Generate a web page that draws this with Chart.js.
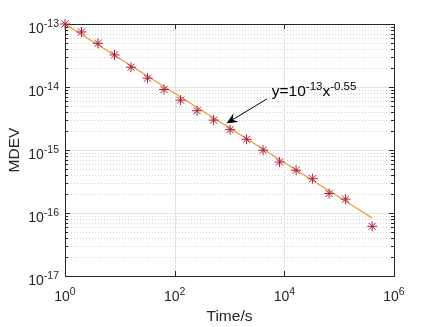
<!DOCTYPE html>
<html>
<head>
<meta charset="utf-8">
<script src="https://cdn.jsdelivr.net/npm/chart.js@4/dist/chart.umd.min.js"></script>
<style>
  html, body { margin: 0; padding: 0; background: #fff; }
  #wrap { width: 436px; height: 327px; }
</style>
</head>
<body>
<div id="wrap"><canvas id="c" width="436" height="327"></canvas></div>
<script>
// measured points (averaging time in s, MDEV)
var tau = [1, 2, 4, 8, 16, 32, 64, 128, 256, 512, 1024, 2048, 4096, 8192,
           16384, 32768, 65536, 131072, 400000];
var mdev = [1e-13, 7.47e-14, 4.93e-14, 3.23e-14, 2.06e-14, 1.38e-14, 9.13e-15,
            6.18e-15, 4.2e-15, 2.98e-15, 2.1e-15, 1.48e-15, 9.9e-16, 6.44e-16,
            4.77e-16, 3.5e-16, 2.04e-16, 1.66e-16, 6.14e-17];

// fitted line end points  y = 1e-13 * x^-0.55
var fitX = [1, 400000];
var fitY = [1e-13, 8.3e-17];

// tick exponents
var xTickExp = [0, 2, 4, 6];
var yTickExp = [-17, -16, -15, -14, -13];

// annotation (data coords)
var note = { textX: 5900, textY: 7.2e-15, tailX: 4775, tailY: 6.45e-15, tipX: 889, tipY: 2.65e-15 };

var FONT = '"Liberation Sans", Arial, Helvetica, sans-serif';
var AXIS = '#262626';

/* 10^n style text, returns width */
var drawPow = function(ctx, x, y, exp, size, supSize, align, prefix) {
  prefix = prefix || '10';
  ctx.font = size + 'px ' + FONT;
  var w1 = ctx.measureText(prefix).width;
  ctx.font = supSize + 'px ' + FONT;
  var w2 = ctx.measureText(exp).width;
  var x0 = x;
  if (align === 'right') x0 = x - w1 - w2;
  if (align === 'center') x0 = x - (w1 + w2) / 2;
  ctx.textAlign = 'left';
  ctx.textBaseline = 'alphabetic';
  ctx.font = size + 'px ' + FONT;
  ctx.fillText(prefix, x0, y);
  ctx.font = supSize + 'px ' + FONT;
  ctx.fillText(exp, x0 + w1, y - 6);
  return w1 + w2;
};

var axesPlugin = {
  id: 'matlabAxes',
  beforeDatasetsDraw: function(chart) {
    var ctx = chart.ctx, a = chart.chartArea;
    var xs = chart.scales.x, ys = chart.scales.y;
    ctx.save();
    // minor y grid (dotted)
    ctx.strokeStyle = '#d4d4d4';
    ctx.lineWidth = 1;
    ctx.setLineDash([1, 2]);
    for (var e = -17; e < -13; e++) {
      for (var m = 2; m <= 9; m++) {
        var py = Math.round(ys.getPixelForValue(m * Math.pow(10, e))) + 0.5;
        ctx.beginPath(); ctx.moveTo(a.left, py); ctx.lineTo(a.right, py); ctx.stroke();
      }
    }
    // major grid
    ctx.setLineDash([]);
    ctx.strokeStyle = '#e3e3e3';
    yTickExp.forEach(function(e) {
      var py = Math.round(ys.getPixelForValue(Math.pow(10, e))) + 0.5;
      ctx.beginPath(); ctx.moveTo(a.left, py); ctx.lineTo(a.right, py); ctx.stroke();
    });
    xTickExp.forEach(function(e) {
      var px = Math.round(xs.getPixelForValue(Math.pow(10, e))) + 0.5;
      ctx.beginPath(); ctx.moveTo(px, a.top); ctx.lineTo(px, a.bottom); ctx.stroke();
    });

    // ticks, inside
    ctx.strokeStyle = AXIS;
    for (var e2 = -17; e2 < -13; e2++) {
      for (var m2 = 2; m2 <= 9; m2++) {
        var ty = Math.round(ys.getPixelForValue(m2 * Math.pow(10, e2))) + 0.5;
        ctx.beginPath();
        ctx.moveTo(a.left, ty); ctx.lineTo(a.left + 3, ty);
        ctx.moveTo(a.right, ty); ctx.lineTo(a.right - 3, ty);
        ctx.stroke();
      }
    }
    yTickExp.forEach(function(e) {
      var ty = Math.round(ys.getPixelForValue(Math.pow(10, e))) + 0.5;
      ctx.beginPath();
      ctx.moveTo(a.left, ty); ctx.lineTo(a.left + 5, ty);
      ctx.moveTo(a.right, ty); ctx.lineTo(a.right - 5, ty);
      ctx.stroke();
    });
    xTickExp.forEach(function(e) {
      var tx = Math.round(xs.getPixelForValue(Math.pow(10, e))) + 0.5;
      ctx.beginPath();
      ctx.moveTo(tx, a.bottom); ctx.lineTo(tx, a.bottom - 5);
      ctx.moveTo(tx, a.top); ctx.lineTo(tx, a.top + 5);
      ctx.stroke();
    });

    // box
    ctx.lineWidth = 1;
    ctx.strokeRect(Math.round(a.left) + 0.5, Math.round(a.top) + 0.5,
                   Math.round(a.right - a.left), Math.round(a.bottom - a.top));

    // tick labels
    ctx.fillStyle = AXIS;
    yTickExp.forEach(function(e) {
      var ty = ys.getPixelForValue(Math.pow(10, e));
      drawPow(ctx, a.left - 6, ty + 8.5, String(e), 14, 10.5, 'right');
    });
    xTickExp.forEach(function(e) {
      var tx = xs.getPixelForValue(Math.pow(10, e));
      drawPow(ctx, tx, a.bottom + 25, String(e), 14, 10.5, 'center');
    });

    // axis titles
    ctx.font = '15.5px ' + FONT;
    ctx.textAlign = 'center';
    ctx.textBaseline = 'alphabetic';
    ctx.fillText('Time/s', (a.left + a.right) / 2, a.bottom + 45);
    ctx.save();
    ctx.translate(19, (a.top + a.bottom) / 2);
    ctx.rotate(-Math.PI / 2);
    ctx.fillText('MDEV', 0, 0);
    ctx.restore();
    ctx.restore();
  },
  afterDatasetsDraw: function(chart) {
    var ctx = chart.ctx;
    var xs = chart.scales.x, ys = chart.scales.y;
    ctx.save();
    ctx.fillStyle = '#000';
    ctx.strokeStyle = '#000';
    // annotation text
    var tx = xs.getPixelForValue(note.textX), ty = ys.getPixelForValue(note.textY);
    var w = drawPow(ctx, tx, ty, '-13', 15.5, 11.5, 'left', 'y=10');
    drawPow(ctx, tx + w, ty, '-0.55', 15.5, 11.5, 'left', 'x');
    // arrow
    var x1 = xs.getPixelForValue(note.tailX), y1 = ys.getPixelForValue(note.tailY);
    var x2 = xs.getPixelForValue(note.tipX), y2 = ys.getPixelForValue(note.tipY);
    var ang = Math.atan2(y2 - y1, x2 - x1);
    var hl = 11, hw = 5;
    ctx.lineWidth = 1;
    ctx.beginPath(); ctx.moveTo(x1, y1);
    ctx.lineTo(x2 - Math.cos(ang) * 6, y2 - Math.sin(ang) * 6); ctx.stroke();
    ctx.beginPath();
    ctx.moveTo(x2, y2);
    ctx.lineTo(x2 - Math.cos(ang) * hl + Math.sin(ang) * hw, y2 - Math.sin(ang) * hl - Math.cos(ang) * hw);
    ctx.lineTo(x2 - Math.cos(ang) * 7, y2 - Math.sin(ang) * 7);
    ctx.lineTo(x2 - Math.cos(ang) * hl - Math.sin(ang) * hw, y2 - Math.sin(ang) * hl + Math.cos(ang) * hw);
    ctx.closePath();
    ctx.fill();
    ctx.restore();
  }
};

var toPoints = function(xArr, yArr) {
  return xArr.map(function(v, i) { return { x: v, y: yArr[i] }; });
};

var chart = new Chart(document.getElementById('c'), {
  type: 'scatter',
  data: {
    datasets: [{
      label: 'MDEV',
      data: toPoints(tau, mdev),
      pointStyle: 'star',
      pointRadius: 5,
      pointBorderWidth: 1,
      pointBorderColor: '#b01d3c',
      pointBackgroundColor: '#b01d3c',
      showLine: false,
      clip: false,
      order: 1
    }, {
      label: 'fit',
      data: toPoints(fitX, fitY),
      showLine: true,
      borderColor: '#ee9a2c',
      borderWidth: 1.2,
      pointRadius: 0,
      fill: false,
      clip: false,
      order: 2
    }]
  },
  plugins: [axesPlugin],
  options: {
    responsive: false,
    animation: false,
    events: [],
    layout: { padding: { left: 65, right: 42, top: 24, bottom: 51 } },
    plugins: {
      legend: { display: false },
      tooltip: { enabled: false }
    },
    scales: {
      x: { type: 'logarithmic', min: 1, max: 1e6, display: false },
      y: { type: 'logarithmic', min: 1e-17, max: 1e-13, display: false }
    }
  }
});
</script>
</body>
</html>
